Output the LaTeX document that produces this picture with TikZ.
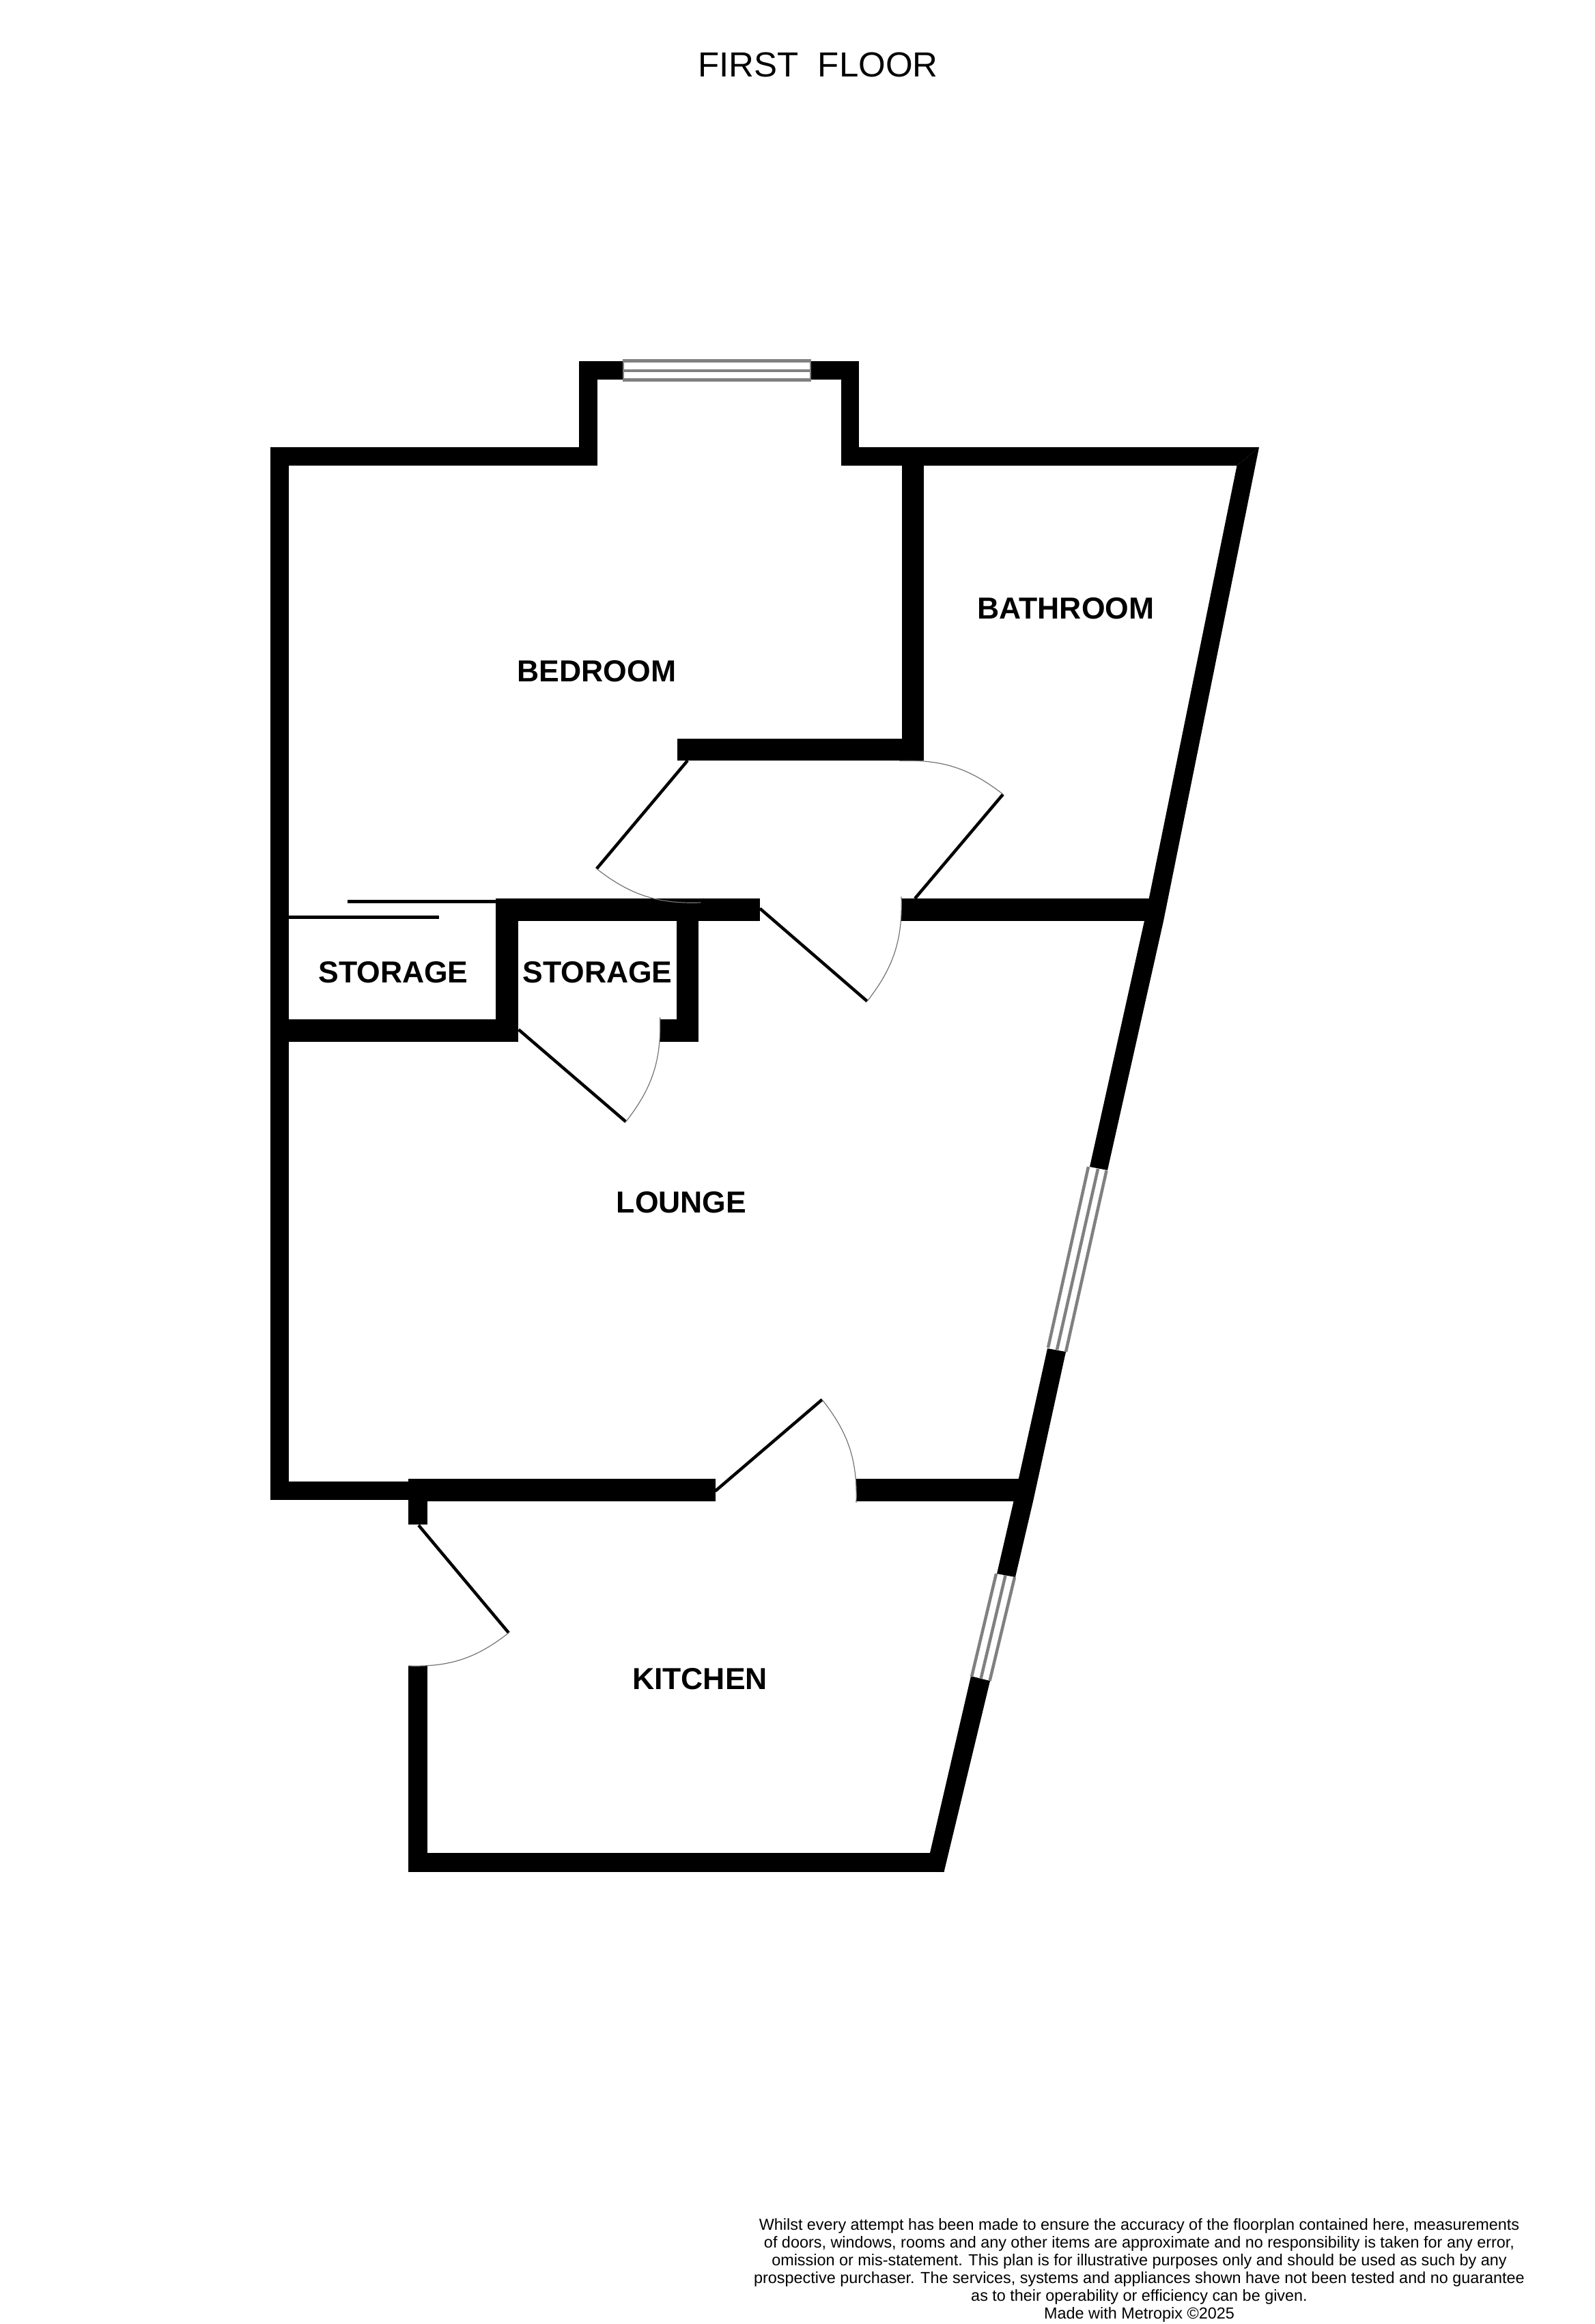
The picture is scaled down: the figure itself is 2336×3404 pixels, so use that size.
\documentclass[tikz,border=0pt]{standalone}
\usepackage{fontspec}
\setmainfont{Liberation Sans}

\begin{document}
\begin{tikzpicture}[
x=1pt,y=-1pt,
wall/.style={fill=black},
leaf/.style={draw=black, line width=4.5pt},
swing/.style={draw=black!55, line width=1.2pt},
pane/.style={draw=black!50, line width=4.5pt},
paneend/.style={draw=black!50, line width=1.5pt},
room/.style={font=\fontsize{44.5}{44.5}\selectfont\bfseries, inner sep=0pt}
]
\useasboundingbox (0,0) rectangle (2336,3404);

% outer walls
\fill[wall] (396,655) rectangle (423,2197);
\fill[wall] (396,655) rectangle (875,682);
\fill[wall] (848,529) rectangle (875,682);
\fill[wall] (848,529) rectangle (913,556);
\fill[wall] (1187,529) rectangle (1258,556);
\fill[wall] (1232,529) rectangle (1258,682);
\fill[wall] (1232,655) -- (1844,655) -- (1811.5,682) -- (1232,682) -- cycle;
\fill[wall] (1844,655) -- (1704,1349) -- (1676,1349) -- (1811.5,682) -- cycle;
\fill[wall] (1704,1349) -- (1622,1714) -- (1596,1709) -- (1676,1349) -- cycle;
\fill[wall] (1561,1980) -- (1513,2199) -- (1484.5,2199) -- (1534,1975) -- cycle;
\fill[wall] (1513,2199) -- (1487,2310) -- (1460,2305) -- (1484.5,2199) -- cycle;
\fill[wall] (1450,2462) -- (1382.5,2742) -- (1362,2714) -- (1422,2455) -- cycle;
\fill[wall] (598,2714) rectangle (1382.5,2742);
\fill[wall] (598,2440) rectangle (626,2742);

% inner walls
\fill[wall] (1321,682) rectangle (1353,1114);
\fill[wall] (991.5,1082) rectangle (1353,1114);
\fill[wall] (726,1316) rectangle (1113,1349);
\fill[wall] (1320,1316) rectangle (1690,1349);
\fill[wall] (726,1316) rectangle (758.5,1525.5);
\fill[wall] (396,1492.5) rectangle (758.5,1525.5);
\fill[wall] (991,1349) rectangle (1023,1525.5);
\fill[wall] (966,1492.5) rectangle (1023,1525.5);
\fill[wall] (396,2170) rectangle (598,2197);
\fill[wall] (598,2166) rectangle (1047.5,2199);
\fill[wall] (1254,2166) rectangle (1500,2199);
\fill[wall] (598,2199) rectangle (626,2233);

% windows
\draw[pane] (913,528.5) -- (1187,528.5);
\draw[pane] (913,543) -- (1187,543);
\draw[pane] (913,556.5) -- (1187,556.5);
\draw[paneend] (913,526) -- (913,559);
\draw[paneend] (1187,526) -- (1187,559);

\draw[pane] (1594,1709) -- (1535,1974);
\draw[pane] (1608,1712) -- (1548,1977);
\draw[pane] (1620.5,1714.5) -- (1561,1980);

\draw[pane] (1459,2305) -- (1423,2456);
\draw[pane] (1472.5,2307.5) -- (1436.5,2459);
\draw[pane] (1486,2310) -- (1449.5,2462);

% sliding door
\draw[leaf] (508.5,1320.7) -- (726,1320.7);
\draw[leaf] (423,1343.7) -- (642.5,1343.7);

% doors
\draw[leaf] (1340,1316) -- (1469,1163.4);
\draw[swing] (1469,1163.4) to[bend right=20] (1317.5,1114.4);
\draw[leaf] (1007,1114) -- (873.8,1272.5);
\draw[swing] (873.8,1272.5) to[bend right=20] (1026.4,1322);
\draw[leaf] (1113,1330.7) -- (1270,1466.5);
\draw[swing] (1270,1466.5) to[bend right=20] (1320,1313.4);
\draw[leaf] (759.5,1508) -- (916.6,1643);
\draw[swing] (916.6,1643) to[bend right=20] (966.6,1490);
\draw[leaf] (1047.5,2184) -- (1204,2050);
\draw[swing] (1204,2050) to[bend left=20] (1254,2201);
\draw[leaf] (613,2234) -- (745,2391.6);
\draw[swing] (745,2391.6) to[bend left=20] (598,2440);

% labels
\node[font=\fontsize{51}{51}\selectfont, inner sep=0pt] (title) at (1198,95) {FIRST\ \ FLOOR};
\node[room] (bedroom) at (874,983) {BEDROOM};
\node[room] (bathroom) at (1561,891) {BATHROOM};
\node[room] (storageleft) at (576,1424) {STORAGE};
\node[room] (storageright) at (875,1424) {STORAGE};
\node[room] (lounge) at (998,1761) {LOUNGE};
\node[room] (kitchen) at (1025,2459) {KITCHEN};
\node[font=\fontsize{23.4}{26}\selectfont, align=center, inner sep=0pt] (note) at (1668.5,3325) {Whilst every attempt has been made to ensure the accuracy of the floorplan contained here, measurements\\
of doors, windows, rooms and any other items are approximate and no responsibility is taken for any error,\\
omission or mis-statement. This plan is for illustrative purposes only and should be used as such by any\\
prospective purchaser. The services, systems and appliances shown have not been tested and no guarantee\\
as to their operability or efficiency can be given.\\
Made with Metropix ©2025};
\end{tikzpicture}
\end{document}
